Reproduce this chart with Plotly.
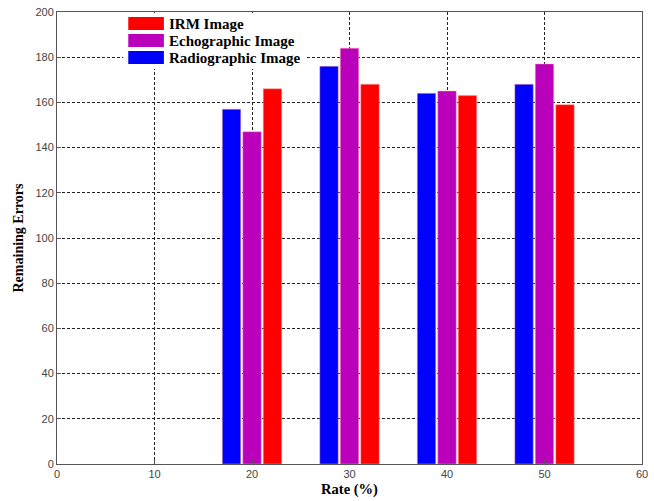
import plotly.graph_objects as go

# Rates (%) and remaining errors per image type
rates = [20, 30, 40, 50]
radiographic = [157, 176, 164, 168]
echographic = [147, 184, 165, 177]
irm = [166, 168, 163, 159]

series_names = ["Radiographic Image", "Echographic Image", "IRM Image"]
series_colors = ["#0000FF", "#BB00BB", "#FF0000"]
series_values = [radiographic, echographic, irm]

x_ticks = [0, 10, 20, 30, 40, 50, 60]
y_ticks = [0, 20, 40, 60, 80, 100, 120, 140, 160, 180, 200]

fig = go.Figure()
for name, color, vals in zip(series_names, series_colors, series_values):
    fig.add_trace(go.Bar(
        x=rates, y=vals, name=name,
        marker=dict(color=color, line=dict(color="rgba(255,160,160,0.6)", width=0.8)),
        showlegend=False,
    ))

axis_common = dict(
    showline=True, linecolor="#555555", linewidth=1, mirror=True,
    ticks="inside", ticklen=4, tickcolor="#555555",
    showgrid=True, gridcolor="#222222", griddash="3px,2px", gridwidth=1,
    zeroline=False, ticklabeloverflow="allow",
    tickfont=dict(family="Arial, Liberation Sans", size=11, color="#444444"),
)

fig.update_layout(
    width=654, height=501,
    margin=dict(l=57, r=6, t=12, b=37),
    plot_bgcolor="white", paper_bgcolor="white",
    barmode="group", bargap=0.37, bargroupgap=0.1,
    xaxis=dict(range=[0, 60], tickvals=x_ticks,
               title=dict(text="<b>Rate (%)</b>", standoff=4,
                          font=dict(family="Liberation Serif, Times New Roman", size=14.5, color="black")),
               **axis_common),
    yaxis=dict(range=[0, 200], tickvals=y_ticks,
               title=dict(text="<b>Remaining Errors</b>", standoff=8,
                          font=dict(family="Liberation Serif, Times New Roman", size=14, color="black")),
               **axis_common),
)

# Legend box drawn in paper coordinates with wide colour swatches
legend_entries = [("IRM Image", "#FF0000"), ("Echographic Image", "#BB00BB"), ("Radiographic Image", "#0000FF")]
plot_w = 654 - 57 - 6
plot_h = 501 - 12 - 37

def px_x(p):
    return (p - 57) / plot_w

def px_y(p):
    return 1 - (p - 12) / plot_h

fig.add_shape(type="rect", xref="paper", yref="paper",
              x0=px_x(124), x1=px_x(308), y0=px_y(69), y1=px_y(13),
              fillcolor="white", line=dict(width=0), layer="above")
row_tops = [17, 34, 51]
for (label, color), top in zip(legend_entries, row_tops):
    fig.add_shape(type="rect", xref="paper", yref="paper",
                  x0=px_x(129), x1=px_x(165), y0=px_y(top + 13), y1=px_y(top),
                  fillcolor=color, line=dict(width=0), layer="above")
    fig.add_annotation(xref="paper", yref="paper", x=px_x(168), y=px_y(top + 7),
                       text="<b>" + label + "</b>", showarrow=False,
                       xanchor="left", yanchor="middle",
                       font=dict(family="Liberation Serif, Times New Roman", size=15, color="black"))

fig.write_html("out.html")
